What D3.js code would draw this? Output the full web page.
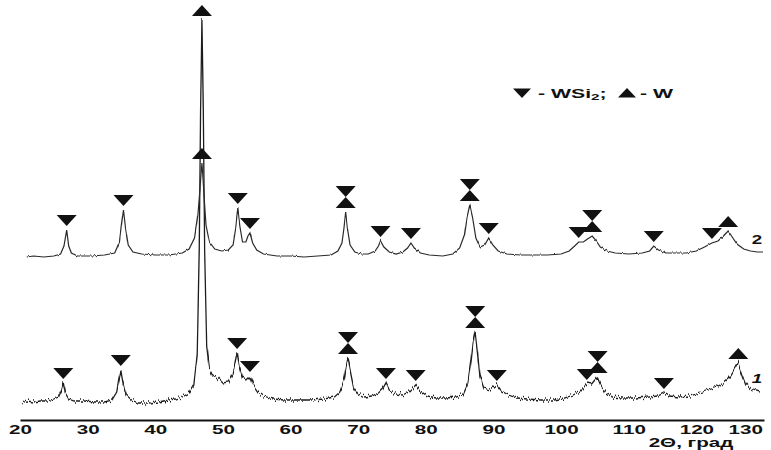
<!DOCTYPE html>
<html>
<head>
<meta charset="utf-8">
<script src="https://cdn.jsdelivr.net/npm/d3@7"></script>
<style>
  html, body { margin: 0; padding: 0; background: #fff; }
  svg { display: block; }
  text { font-family: "Liberation Sans", Arial, sans-serif; font-weight: bold; fill: #111; }
</style>
</head>
<body>
<svg id="chart" width="771" height="450"></svg>
<script>
// Diffraction pattern of sample 1 (lower trace): [2θ, intensity a.u.]
const pattern1 = [
  [20.3, 7], [21.0, 9], [22.0, 8], [23.0, 9], [24.0, 9], [25.0, 11], [25.7, 13],
  [26.1, 19], [26.4, 27], [26.7, 17], [27.2, 11], [28.0, 9], [29.5, 9], [31.0, 8],
  [32.5, 8], [33.6, 10], [34.3, 18], [34.6, 30], [34.9, 40], [35.2, 28], [35.7, 15],
  [36.5, 10], [37.5, 7], [39.0, 7], [40.5, 8], [42.0, 10], [43.0, 11], [44.0, 13],
  [45.0, 17], [45.7, 25], [46.2, 55], [46.5, 160], [46.7, 300], [46.9, 390],
  [47.1, 300], [47.3, 160], [47.6, 65], [48.0, 42], [48.5, 35], [49.2, 32],
  [50.0, 27], [50.8, 28], [51.5, 37], [51.9, 50], [52.1, 57], [52.4, 44], [52.9, 32],
  [53.4, 30], [54.0, 34], [54.5, 25], [55.2, 18], [56.0, 14], [57.5, 11], [59.0, 10],
  [61.0, 10], [63.0, 10], [65.0, 11], [66.5, 13], [67.3, 18], [67.9, 30], [68.2, 43],
  [68.5, 52], [68.8, 40], [69.3, 23], [70.0, 16], [71.0, 13], [72.0, 14], [73.0, 17],
  [73.6, 21], [74.1, 27], [74.6, 20], [75.5, 16], [76.5, 15], [77.5, 18], [78.5, 25],
  [79.2, 19], [80.2, 14], [81.5, 12], [83.0, 12], [84.5, 13], [85.5, 16], [86.2, 27],
  [86.7, 50], [87.0, 68], [87.3, 78], [87.6, 60], [88.0, 35], [88.6, 22], [89.5, 20],
  [90.5, 25], [91.2, 19], [92.2, 15], [93.5, 12], [95.0, 11], [97.0, 10], [99.0, 10],
  [100.5, 12], [101.8, 15], [102.8, 19], [103.8, 26], [104.5, 25], [105.0, 29],
  [105.4, 33], [105.9, 25], [106.6, 17], [107.6, 13], [109.0, 12], [111.0, 12],
  [113.0, 13], [114.3, 14], [115.2, 17], [116.0, 14], [117.5, 13], [119.0, 14],
  [120.5, 17], [121.8, 20], [123.0, 23], [124.0, 27], [125.0, 33], [125.7, 41],
  [126.2, 47], [126.7, 37], [127.3, 26], [128.0, 21], [128.8, 19], [129.4, 18]
];

// Diffraction pattern of sample 2 (upper trace): [2θ, intensity a.u.]
const pattern2 = [
  [21.0, 3], [22.0, 4], [23.5, 3], [25.0, 4], [26.0, 6], [26.5, 14], [26.9, 30],
  [27.2, 14], [27.6, 7], [28.5, 4], [30.5, 4], [32.5, 5], [34.0, 7], [34.7, 18],
  [35.0, 35], [35.3, 50], [35.6, 32], [36.0, 15], [36.7, 8], [38.0, 6], [40.0, 5],
  [42.0, 5], [44.0, 7], [45.0, 11], [45.8, 22], [46.3, 45], [46.6, 70], [46.9, 97],
  [47.2, 65], [47.5, 35], [48.0, 18], [48.8, 11], [49.8, 9], [50.8, 10], [51.5, 15],
  [51.9, 32], [52.2, 52], [52.5, 34], [52.9, 18], [53.4, 18], [53.7, 24], [54.0, 27],
  [54.4, 17], [55.0, 10], [56.0, 6], [58.0, 4], [60.0, 4], [62.0, 3], [64.0, 4],
  [66.0, 5], [67.0, 9], [67.6, 17], [67.9, 32], [68.15, 48], [68.4, 32], [68.8, 15],
  [69.5, 8], [70.5, 6], [71.5, 6], [72.5, 9], [73.0, 14], [73.3, 19], [73.8, 13],
  [74.6, 8], [75.6, 6], [76.6, 8], [77.3, 12], [77.8, 17], [78.3, 12], [79.2, 7],
  [80.5, 5], [82.5, 4], [84.0, 6], [85.0, 12], [85.7, 25], [86.1, 43], [86.5, 55],
  [86.9, 43], [87.4, 22], [88.0, 13], [88.7, 15], [89.3, 22], [89.9, 15], [90.7, 9],
  [92.0, 6], [94.0, 5], [96.0, 5], [98.0, 5], [100.0, 6], [101.2, 9], [102.0, 14],
  [102.6, 18], [103.3, 18], [103.9, 21], [104.6, 24], [105.1, 20], [105.8, 13],
  [106.8, 9], [108.0, 7], [110.0, 6], [112.0, 7], [113.1, 9], [113.7, 14], [114.4, 10],
  [115.5, 7], [117.0, 7], [118.5, 7], [120.0, 9], [121.2, 13], [122.3, 17], [123.2, 19],
  [124.0, 24], [124.7, 29], [125.3, 23], [126.0, 16], [127.0, 11], [128.0, 9],
  [129.0, 8], [129.85, 8]
];

// Vertical shift of the upper trace (a.u.)
const pattern2Offset = 150;

// Indexed reflections (2θ) for each phase
const wsi2Lines1 = [26.4, 34.9, 52.1, 54.0, 68.5, 74.1, 78.5, 87.3, 90.5, 103.8, 105.4, 115.2];
const wLines1 = [46.9, 68.5, 87.3, 105.4, 126.2];
const wsi2Lines2 = [26.9, 35.3, 52.2, 54.0, 68.15, 73.3, 77.8, 86.5, 89.3, 102.6, 104.6, 113.7, 122.3];
const wLines2 = [46.9, 68.15, 86.5, 104.6, 124.7];

const xTicks = [20, 30, 40, 50, 60, 70, 80, 90, 100, 110, 120, 130];
const xTitle = "2Θ, град";
const traceLabels = ["1", "2"];

const svg = d3.select("#chart");
const x = d3.scaleLinear().domain([20, 130]).range([20, 764]);
const y = d3.scaleLinear().domain([0, 400]).range([410, 10]);

// Grainy look of the recorded traces: vertical-only jitter
const defs = svg.append("defs");
function jitterFilter(id, scale, freq, seed) {
  const f = defs.append("filter").attr("id", id)
    .attr("filterUnits", "userSpaceOnUse")
    .attr("x", 0).attr("y", 0).attr("width", 771).attr("height", 450);
  f.append("feTurbulence").attr("type", "fractalNoise")
    .attr("baseFrequency", `${freq} 0.02`).attr("numOctaves", 1).attr("seed", seed).attr("result", "n");
  f.append("feColorMatrix").attr("in", "n").attr("type", "matrix")
    .attr("values", "0 0 0 0 0.5  0 1 0 0 0  0 0 0 0 0  0 0 0 0 1").attr("result", "m");
  f.append("feDisplacementMap").attr("in", "SourceGraphic").attr("in2", "m")
    .attr("scale", scale).attr("xChannelSelector", "R").attr("yChannelSelector", "G");
}
jitterFilter("grain1", 10, 0.6, 4);
jitterFilter("grain2", 3, 0.5, 9);

const line = off => d3.line().x(d => x(d[0])).y(d => y(d[1] + off));

svg.append("path").datum(pattern1)
  .attr("d", line(0)).attr("fill", "none")
  .attr("stroke", "#1c1c1c").attr("stroke-width", 1.3)
  .attr("filter", "url(#grain1)");

svg.append("path").datum(pattern2)
  .attr("d", line(pattern2Offset)).attr("fill", "none")
  .attr("stroke", "#2a2a2a").attr("stroke-width", 1.2)
  .attr("filter", "url(#grain2)");

// Phase markers above the reflections
const TW = 10, TH = 11, GAP = 4;
function markers(data, off, wsi2, w) {
  const out = [];
  const all = Array.from(new Set([...wsi2, ...w])).sort((a, b) => a - b);
  all.forEach(t => {
    const near = data.filter(d => Math.abs(d[0] - t) <= 0.3);
    const peak = d3.max(near, d => d[1]);
    let base = y(peak + off) - GAP;
    if (w.includes(t)) { out.push({ t, up: true, base }); base -= TH; }
    if (wsi2.includes(t)) out.push({ t, up: false, base });
  });
  return out;
}
const triPath = m => {
  const cx = x(m.t), b = m.base;
  return m.up
    ? `M${cx - TW},${b}L${cx + TW},${b}L${cx},${b - TH}Z`
    : `M${cx - TW},${b - TH}L${cx + TW},${b - TH}L${cx},${b}Z`;
};
const allMarkers = [
  ...markers(pattern1, 0, wsi2Lines1, wLines1),
  ...markers(pattern2, pattern2Offset, wsi2Lines2, wLines2)
];
svg.append("g").selectAll("path").data(allMarkers).join("path")
  .attr("d", triPath).attr("fill", "#111");

// 2θ axis
const STRETCH = 1.65;
const axis = svg.append("g").attr("transform", "translate(0,420)")
  .call(d3.axisBottom(x).tickValues(xTicks).tickSize(0).tickSizeOuter(0).tickPadding(5));
axis.select(".domain").attr("stroke", "#111").attr("stroke-width", 2);
axis.selectAll(".tick text")
  .attr("font-size", 12.5)
  .attr("font-family", "Liberation Sans, Arial, sans-serif")
  .attr("font-weight", "bold")
  .attr("fill", "#111")
  .attr("transform", `scale(${STRETCH},1)`);
axis.selectAll(".tick text").filter(d => d === 130)
  .attr("text-anchor", "end").attr("x", -1.5 / STRETCH);

svg.append("text")
  .attr("transform", `translate(691,447) scale(${STRETCH},1)`)
  .attr("text-anchor", "middle").attr("font-size", 12.5)
  .text(xTitle);

// Trace numbers
svg.append("text").attr("transform", `translate(757,383) scale(1.5,1)`)
  .attr("text-anchor", "middle").attr("font-size", 12.5).attr("font-style", "italic")
  .text(traceLabels[0]);
svg.append("text").attr("transform", `translate(757,244) scale(1.5,1)`)
  .attr("text-anchor", "middle").attr("font-size", 12.5)
  .text(traceLabels[1]);

// Legend
const leg = svg.append("g");
leg.append("path").attr("d", "M513,88.5L531,88.5L522,98Z").attr("fill", "#111");
const lt = leg.append("text").attr("transform", "translate(538,97.5) scale(1.7,1)").attr("font-size", 12.5);
lt.append("tspan").text("- WSi");
lt.append("tspan").attr("font-size", 9).attr("dy", 2.5).text("2");
lt.append("tspan").attr("dy", -2.5).text(";");
leg.append("path").attr("d", "M618,97.5L636,97.5L627,88Z").attr("fill", "#111");
leg.append("text").attr("transform", "translate(640,97.5) scale(1.7,1)").attr("font-size", 12.5)
  .text("- W");
</script>
</body>
</html>
